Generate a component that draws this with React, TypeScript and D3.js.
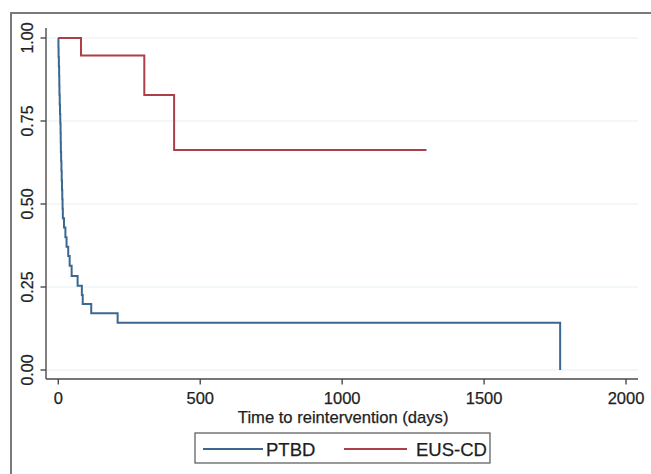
import { useEffect, useRef } from 'react'
import * as d3 from 'd3'

// Kaplan-Meier estimates (step after each event)
const ptbdTimes = [0, 0.5, 1, 2, 3, 3.5, 4, 5, 6, 7, 8, 8.5, 9, 10, 11, 12, 13, 14, 15, 16, 20, 25, 29, 35, 40, 47, 68, 83, 86, 116, 209, 1768]
const ptbdSurv = [1, 0.971, 0.943, 0.914, 0.886, 0.857, 0.829, 0.8, 0.771, 0.743, 0.714, 0.686, 0.657, 0.629, 0.6, 0.571, 0.543, 0.514, 0.486, 0.457, 0.429, 0.4, 0.371, 0.343, 0.314, 0.283, 0.254, 0.226, 0.199, 0.171, 0.142, 0]

const eusTimes = [0, 80, 303, 408, 1297]
const eusSurv = [1, 0.947, 0.828, 0.663, 0.663]

const xTicks = [0, 500, 1000, 1500, 2000]
const yTicks = [0, 0.25, 0.5, 0.75, 1]
const seriesNames = ['PTBD', 'EUS-CD']
const seriesColors = ['#3b6791', '#ad3f48']

const W = 651, H = 474
const FONT = '"Liberation Sans", Arial, Helvetica, sans-serif'

export default function App() {
  const svgRef = useRef<SVGSVGElement>(null)

  useEffect(() => {
    const svg = d3.select(svgRef.current)
    svg.selectAll('*').remove()

    const x = d3.scaleLinear().domain([0, 2000]).range([58.3, 626])
    const y = d3.scaleLinear().domain([0, 1]).range([370, 38])
    const left = 46, right = 638, top = 28, bottom = 379

    // outer frame (only top/left edges fall inside the picture)
    svg.append('rect').attr('x', 11).attr('y', 13).attr('width', W + 20).attr('height', H + 20)
      .attr('fill', '#fff').attr('stroke', '#7a7a7a').attr('stroke-width', 2)

    // gridlines
    svg.append('g').selectAll('line').data(yTicks).join('line')
      .attr('x1', left).attr('x2', right)
      .attr('y1', d => y(d)).attr('y2', d => y(d))
      .attr('stroke', '#e6eff3').attr('stroke-width', 1.2)

    // axes
    const ax = svg.append('g').attr('stroke', '#4a4a4a').attr('stroke-width', 1.4)
    ax.append('line').attr('x1', left).attr('x2', left).attr('y1', top).attr('y2', bottom)
    ax.append('line').attr('x1', left).attr('x2', right).attr('y1', bottom).attr('y2', bottom)
    ax.selectAll('.yt').data(yTicks).join('line').attr('class', 'yt')
      .attr('x1', left - 5.5).attr('x2', left).attr('y1', d => y(d)).attr('y2', d => y(d))
    ax.selectAll('.xt').data(xTicks).join('line').attr('class', 'xt')
      .attr('x1', d => x(d)).attr('x2', d => x(d)).attr('y1', bottom).attr('y2', bottom + 5.5)

    const txt = (sel: any, size: number) => sel
      .attr('font-family', FONT).attr('font-size', size).attr('fill', '#1e1e1e')
      .attr('stroke', '#1e1e1e').attr('stroke-width', 0.25)

    txt(svg.append('g').selectAll('text').data(xTicks).join('text')
      .attr('x', d => x(d)).attr('y', 403.5).attr('text-anchor', 'middle'), 16.5)
      .text((d: number) => String(d))

    txt(svg.append('g').selectAll('text').data(yTicks).join('text')
      .attr('transform', d => `translate(33,${y(d)}) rotate(-90)`).attr('text-anchor', 'middle'), 16)
      .text((d: number) => d.toFixed(2))

    txt(svg.append('text').attr('x', x(1000) + 1).attr('y', 422.5).attr('text-anchor', 'middle'), 16.6)
      .text('Time to reintervention (days)')

    // survival curves
    const line = d3.line<[number, number]>().x(d => x(d[0])).y(d => y(d[1])).curve(d3.curveStepAfter)
    const series = [
      d3.zip(ptbdTimes, ptbdSurv) as [number, number][],
      d3.zip(eusTimes, eusSurv) as [number, number][],
    ]
    svg.append('g').selectAll('path').data(series).join('path')
      .attr('d', d => line(d))
      .attr('fill', 'none')
      .attr('stroke', (_, i) => seriesColors[i])
      .attr('stroke-width', 2)

    // legend
    const lg = svg.append('g')
    lg.append('rect').attr('x', 195).attr('y', 433).attr('width', 295).attr('height', 30)
      .attr('fill', '#fff').attr('stroke', '#555').attr('stroke-width', 1.2)
    const items = [
      { x1: 203, x2: 263, tx: 266 },
      { x1: 344, x2: 407, tx: 416 },
    ]
    items.forEach((it, i) => {
      lg.append('line').attr('x1', it.x1).attr('x2', it.x2).attr('y1', 449).attr('y2', 449)
        .attr('stroke', seriesColors[i]).attr('stroke-width', 1.8)
      txt(lg.append('text').attr('x', it.tx).attr('y', 456), 18.5).text(seriesNames[i])
    })
  }, [])

  return (
    <svg ref={svgRef} width={W} height={H}
      style={{ position: 'absolute', left: 0, top: 0, background: '#fff' }} />
  )
}
